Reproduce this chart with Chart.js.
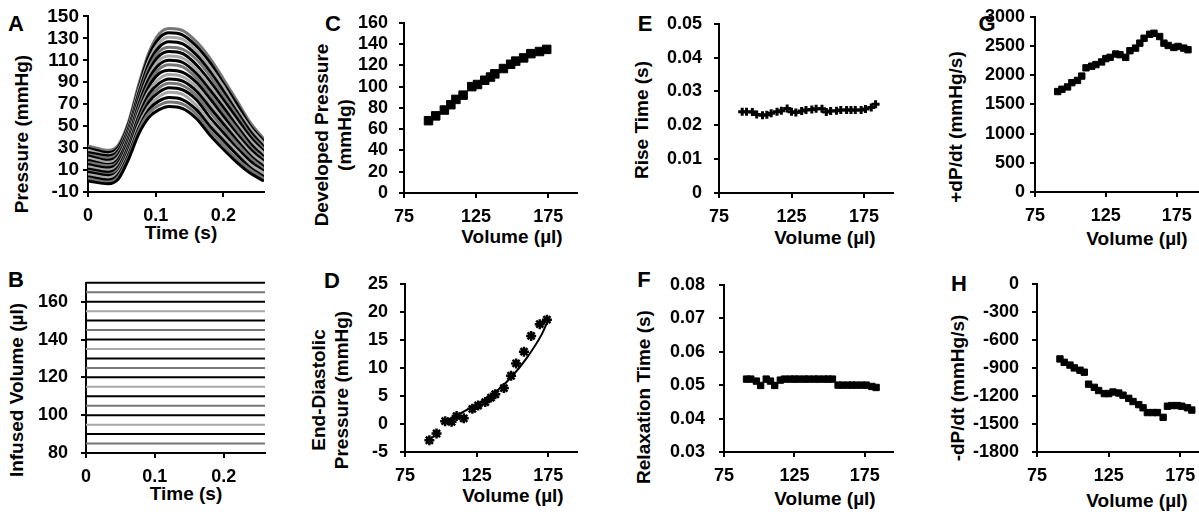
<!DOCTYPE html>
<html><head><meta charset="utf-8">
<script src="https://cdn.jsdelivr.net/npm/chart.js@4.4.1/dist/chart.umd.min.js"></script>
<style>
html,body{margin:0;padding:0;background:#fff;overflow:hidden;width:1199px;height:514px;}
body{position:relative;font-family:'Liberation Sans',Arial,sans-serif;font-weight:bold;color:#000;}
canvas{position:absolute;}
.t{position:absolute;white-space:nowrap;line-height:1;font-size:19px;transform:translate(-50%,-50%);}
.r{transform:translate(-50%,-50%) rotate(-90deg);}
.L{position:absolute;font-size:22px;line-height:1;transform:translate(-50%,-50%);}
</style></head><body>

<div class="L" style="left:16px;top:24px">A</div>
<div class="L" style="left:16px;top:280px">B</div>
<div class="L" style="left:333px;top:24px">C</div>
<div class="L" style="left:332px;top:281px">D</div>
<div class="L" style="left:645px;top:24px">E</div>
<div class="L" style="left:644px;top:280px">F</div>
<div class="L" style="left:987px;top:24px">G</div>
<div class="L" style="left:959px;top:284px">H</div>

<div class="t r" style="left:21px;top:134px">Pressure (mmHg)</div>
<div class="t r" style="left:16px;top:390px">Infused Volume (µl)</div>
<div class="t r" style="left:321px;top:135px">Developed Pressure</div>
<div class="t r" style="left:344px;top:135px">(mmHg)</div>
<div class="t r" style="left:318px;top:390px">End-Diastolic</div>
<div class="t r" style="left:341px;top:390px">Pressure (mmHg)</div>
<div class="t r" style="left:641px;top:120px">Rise Time (s)</div>
<div class="t r" style="left:643px;top:397px">Relaxation Time (s)</div>
<div class="t r" style="left:955px;top:127px">+dP/dt (mmHg/s)</div>
<div class="t r" style="left:957px;top:388px">-dP/dt (mmHg/s)</div>

<div class="t" style="left:181px;top:232px">Time (s)</div>
<div class="t" style="left:186px;top:493px">Time (s)</div>
<div class="t" style="left:512px;top:236px">Volume (µl)</div>
<div class="t" style="left:513px;top:495px">Volume (µl)</div>
<div class="t" style="left:825px;top:237px">Volume (µl)</div>
<div class="t" style="left:825px;top:498px">Volume (µl)</div>
<div class="t" style="left:1137px;top:238px">Volume (µl)</div>
<div class="t" style="left:1137px;top:500px">Volume (µl)</div>

<script>
// ---------- data ----------
const infusedVolumes = [85, 90, 95, 100, 105, 110, 115, 120, 125, 130, 135, 140, 145, 150, 155, 160, 165, 170];
const timeA = [0, 0.03, 0.045, 0.06, 0.075, 0.09, 0.105, 0.12, 0.14, 0.16, 0.18, 0.20, 0.22, 0.24, 0.26];
const pressureCurves = [
  [0, -2.5, 2, 20, 43, 58, 65, 68, 66, 57, 42, 29, 17, 7, 0],
  [2, -1, 4, 22, 46, 62, 69, 72, 70, 61, 46, 33, 20, 10, 2],
  [4, 1, 6, 24, 48, 65, 73, 76, 74, 65, 50, 37, 24, 12, 4],
  [6, 3, 8, 26, 51, 68, 77, 81, 79, 69, 54, 40, 27, 15, 7],
  [8, 5, 9, 28, 54, 72, 81, 85, 83, 74, 58, 44, 30, 18, 9],
  [9, 6, 11, 30, 56, 75, 85, 89, 87, 78, 63, 48, 34, 21, 11],
  [11, 8, 13, 32, 59, 79, 89, 93, 91, 82, 67, 52, 37, 23, 13],
  [13, 10, 15, 34, 62, 82, 93, 97, 95, 86, 71, 55, 40, 26, 16],
  [15, 12, 17, 36, 64, 86, 98, 101, 99, 90, 75, 59, 43, 29, 18],
  [17, 14, 18, 38, 67, 89, 102, 106, 104, 94, 79, 63, 47, 31, 20],
  [19, 15, 20, 40, 70, 93, 106, 110, 108, 98, 83, 67, 50, 34, 22],
  [21, 17, 22, 42, 72, 96, 110, 114, 112, 102, 87, 70, 53, 37, 25],
  [23, 19, 24, 44, 75, 100, 114, 118, 116, 106, 91, 74, 57, 40, 27],
  [24, 21, 26, 46, 77, 103, 118, 122, 120, 111, 96, 78, 60, 42, 29],
  [26, 23, 28, 48, 80, 107, 122, 127, 125, 115, 100, 82, 63, 45, 31],
  [28, 24, 29, 50, 83, 110, 126, 131, 129, 119, 104, 86, 66, 48, 34],
  [30, 26, 31, 52, 85, 114, 130, 135, 133, 123, 108, 89, 70, 50, 36],
  [32, 28, 33, 54, 88, 117, 134, 139, 137, 127, 112, 93, 73, 53, 38]
];
const timeB = [0, 0.26];

const volCD = [92, 97, 103, 107.5, 111, 116, 122, 126, 131, 135, 138, 144, 149, 152.5, 158, 163, 169, 174];
const developedPressure = [68, 72.5, 78, 83, 88, 92, 100, 102, 106, 109, 112, 117, 121, 124, 127, 131, 133, 135];
const endDiastolic = [-2.9, -1.7, 0.5, 0.4, 1.4, 1.0, 2.7, 3.3, 3.9, 4.7, 5.3, 6.4, 8.6, 10.8, 12.9, 15.7, 17.8, 18.6];
const edpFitVol = [101, 110, 120, 130, 140, 150, 160, 170, 174];
const edpFit = [0.2, 1.4, 2.8, 4.3, 6.1, 8.6, 11.8, 15.8, 18.0];

const volEH = [91, 94, 98, 101, 105, 108, 111, 115, 118, 122, 125, 128, 132, 135, 139, 142, 146, 149, 152, 156, 159, 163, 166, 169, 173, 176, 180, 183];
const riseTime = [0.0240, 0.0240, 0.0239, 0.0232, 0.0230, 0.0231, 0.0236, 0.0240, 0.0243, 0.0250, 0.0240, 0.0238, 0.0242, 0.0245, 0.0247, 0.0249, 0.0249, 0.0239, 0.0242, 0.0243, 0.0245, 0.0245, 0.0245, 0.0245, 0.0245, 0.0248, 0.0253, 0.0262];
const relaxTime = [0.0518, 0.0518, 0.0512, 0.0499, 0.0518, 0.0512, 0.0499, 0.0515, 0.0518, 0.0518, 0.0518, 0.0518, 0.0518, 0.0518, 0.0518, 0.0518, 0.0518, 0.0518, 0.0518, 0.0500, 0.0500, 0.0500, 0.0500, 0.0500, 0.0500, 0.0500, 0.0496, 0.0493];
const plusDPdt = [1720, 1759, 1799, 1872, 1911, 1985, 2126, 2154, 2182, 2227, 2284, 2306, 2363, 2351, 2306, 2419, 2464, 2549, 2633, 2701, 2718, 2662, 2549, 2509, 2475, 2492, 2464, 2436];
const minusDPdt = [-804, -840, -870, -900, -925, -946, -1074, -1108, -1142, -1175, -1175, -1158, -1169, -1192, -1226, -1260, -1293, -1327, -1378, -1378, -1378, -1429, -1310, -1303, -1303, -1310, -1327, -1351];

const timeTicks = [0, 0.1, 0.2];
const volumeTicks = [75, 125, 175];
const infusedTicks = [80, 100, 120, 140, 160];

// ---------- styles ----------
const lineShades = ['#000000', '#777777', '#000000', '#a8a8a8'];
const FONT = "'Liberation Sans', Arial, sans-serif";
const pts = (xs, ys) => xs.map((x, i) => ({x, y: ys[i]}));
const fmt = v => String(Math.round(v * 10000) / 10000);

function panel(c) {
  const YW = 100, PT = 14, PR = 12, XH = 45;
  const cv = document.createElement('canvas');
  const W = c.x1 - c.x0 + YW + PR, H = c.y1 - c.y0 + PT + XH;
  cv.width = W; cv.height = H;
  cv.style.left = (c.x0 - YW) + 'px'; cv.style.top = (c.y0 - PT) + 'px';
  cv.style.width = W + 'px'; cv.style.height = H + 'px';
  document.body.appendChild(cv);
  const grid = {display: true, drawOnChartArea: false, drawTicks: true, tickLength: 5, color: '#000', lineWidth: 2};
  const border = {display: true, color: '#000', width: 2};
  const yScale = {
    type: 'linear', min: c.yMin, max: c.yMax, grid, border,
    ticks: {color: '#000', font: {family: FONT, size: c.yFont || 18, weight: 'bold'}, padding: c.yPad, stepSize: c.yStep, callback: fmt, autoSkip: false},
    afterFit: s => { s.width = YW; }
  };
  if (c.yTicks) yScale.afterBuildTicks = s => { s.ticks = c.yTicks.map(v => ({value: v})); };
  const xScale = {
    type: 'linear', min: c.xMin, max: c.xMax, grid, border,
    ticks: {color: '#000', font: {family: FONT, size: 18, weight: 'bold'}, padding: 8, maxRotation: 0, callback: fmt, autoSkip: false},
    afterBuildTicks: s => { s.ticks = c.xTicks.map(v => ({value: v})); },
    afterFit: s => { s.height = XH; }
  };
  new Chart(cv, {
    type: 'scatter',
    data: {datasets: c.datasets},
    options: {
      responsive: false, animation: false, devicePixelRatio: 1,
      layout: {padding: {left: 0, right: PR, top: PT, bottom: 0}},
      plugins: {legend: {display: false}, tooltip: {enabled: false}},
      scales: {x: xScale, y: yScale}
    }
  });
}

const markers = (data, style, r, bw) => ({
  data, showLine: false, pointStyle: style, pointRadius: r, pointHoverRadius: r, clip: false,
  backgroundColor: '#000', borderColor: '#000', pointBorderWidth: bw, borderWidth: bw
});

// A
panel({
  x0: 88, y0: 15, x1: 264, y1: 192, xMin: 0, xMax: 0.26, xTicks: timeTicks,
  yMin: -10, yMax: 150, yStep: 20, yPad: 4, yFont: 19,
  datasets: pressureCurves.map((p, i) => ({
    data: pts(timeA, p), showLine: true, pointRadius: 0, borderWidth: 3,
    borderColor: lineShades[i % 4], cubicInterpolationMode: 'monotone'
  }))
});
// B
panel({
  x0: 86, y0: 273, x1: 265, y1: 453, xMin: 0, xMax: 0.26, xTicks: timeTicks,
  yMin: 80, yMax: 170, yTicks: infusedTicks, yPad: 13,
  datasets: infusedVolumes.map((v, i) => ({
    data: pts(timeB, [v, v]), showLine: true, pointRadius: 0, borderWidth: 2, clip: false,
    borderColor: lineShades[(i + 1) % 4]
  }))
});
// C
panel({
  x0: 404, y0: 15, x1: 577, y1: 193, xMin: 75, xMax: 195, xTicks: volumeTicks,
  yMin: 0, yMax: 160, yStep: 20, yPad: 11,
  datasets: [markers(pts(volCD, developedPressure), 'rect', 6, 1)]
});
// D
panel({
  x0: 405, y0: 275, x1: 577, y1: 452, xMin: 75, xMax: 195, xTicks: volumeTicks,
  yMin: -5, yMax: 25, yStep: 5, yPad: 12,
  datasets: [
    {data: pts(edpFitVol, edpFit), showLine: true, pointRadius: 0, borderWidth: 2, borderColor: '#000', cubicInterpolationMode: 'monotone'},
    markers(pts(volCD, endDiastolic), 'star', 5, 2.5)
  ]
});
// E
panel({
  x0: 719, y0: 15, x1: 893, y1: 193, xMin: 75, xMax: 195, xTicks: volumeTicks,
  yMin: 0, yMax: 0.05, yStep: 0.01, yPad: 12,
  datasets: [markers(pts(volEH, riseTime), 'cross', 4, 3)]
});
// F
panel({
  x0: 724, y0: 274, x1: 893, y1: 452, xMin: 75, xMax: 195, xTicks: volumeTicks,
  yMin: 0.03, yMax: 0.08, yStep: 0.01, yPad: 14,
  datasets: [markers(pts(volEH, relaxTime), 'rect', 4.5, 1)]
});
// G
panel({
  x0: 1035, y0: 15, x1: 1205, y1: 192, xMin: 75, xMax: 195, xTicks: volumeTicks,
  yMin: 0, yMax: 3000, yStep: 500, yPad: 5,
  datasets: [markers(pts(volEH, plusDPdt), 'rect', 4.5, 1)]
});
// H
panel({
  x0: 1037, y0: 274, x1: 1209, y1: 452, xMin: 75, xMax: 195, xTicks: volumeTicks,
  yMin: -1800, yMax: 0, yStep: 300, yPad: 13,
  datasets: [markers(pts(volEH, minusDPdt), 'rect', 4.5, 1)]
});
</script>
</body></html>
